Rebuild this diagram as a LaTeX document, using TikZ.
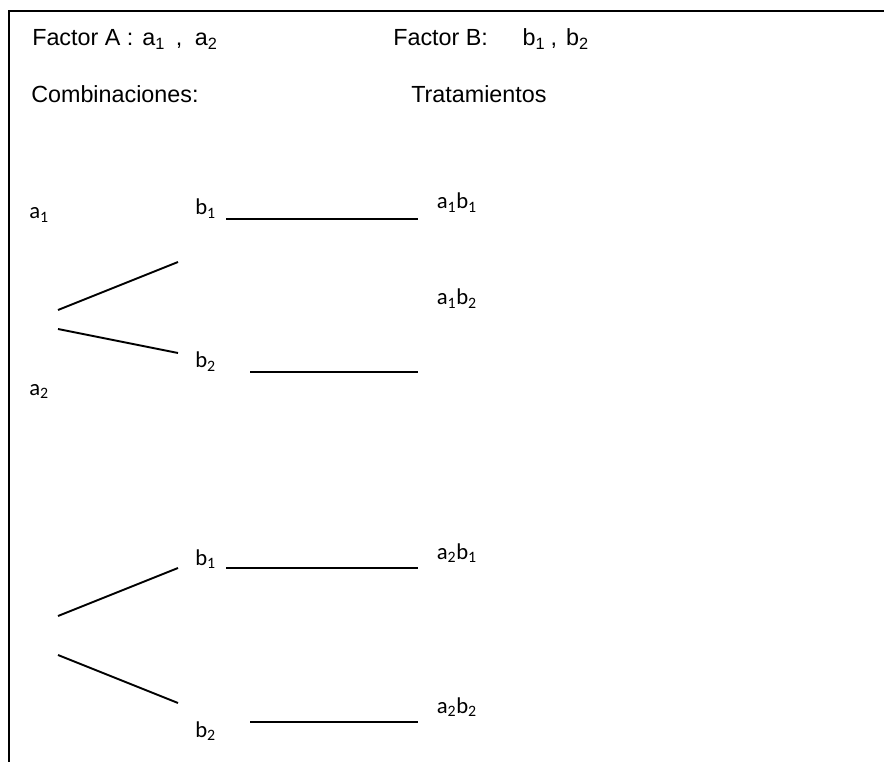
\documentclass[tikz,border=0pt]{standalone}
\usepackage{fontspec}
\setmainfont{Liberation Sans}
\newfontfamily\calfont{Carlito}
\tikzset{
  headtxt/.style={anchor=base west, inner sep=0pt, font=\fontsize{17.5}{21}\selectfont},
  treetxt/.style={anchor=base west, inner sep=0pt, font=\calfont\fontsize{17}{20}\selectfont},
  branch/.style={line width=1.4pt, line cap=butt},
  frameline/.style={line width=1.5pt, line join=miter}
}
\begin{document}
\begin{tikzpicture}[x=0.75pt,y=-0.75pt]
\useasboundingbox (0,0) rectangle (884,762);
% frame (top and left edges only)
\coordinate (ftr) at (884,11);
\coordinate (ftl) at (9,11);
\coordinate (fbl) at (9,762);
\draw[frameline] (ftr) -- (ftl) -- (fbl);

% header texts
\node[headtxt] (fa) at (32,46) {Factor A :\hspace{6.75pt}a\textsubscript{1}\hspace{8pt},\hspace{9.4pt}a\textsubscript{2}};
\node[headtxt] (fb) at (393,46) {Factor B:\hspace{26pt}b\textsubscript{1}\hspace{4pt},\hspace{6.75pt}b\textsubscript{2}};
\node[headtxt] (comb) at (31,102.5) {Combinaciones:};
\node[headtxt] (trat) at (411,102.5) {Tratamientos};

% upper tree
\node[treetxt] (a1) at (29,219) {a\textsubscript{1}};
\node[treetxt] (a2) at (29,395) {a\textsubscript{2}};
\node[treetxt] (b1u) at (195,215) {b\textsubscript{1}};
\node[treetxt] (b2u) at (195,368) {b\textsubscript{2}};
\node[treetxt] (a1b1) at (436.5,209) {a\textsubscript{1}b\textsubscript{1}};
\node[treetxt] (a1b2) at (436.5,305) {a\textsubscript{1}b\textsubscript{2}};

\coordinate (s1a) at (58,310);  \coordinate (s1b) at (178,262);
\coordinate (s2a) at (58,329);  \coordinate (s2b) at (178,353);
\coordinate (l1a) at (226,219); \coordinate (l1b) at (418,219);
\coordinate (l2a) at (250,372); \coordinate (l2b) at (418,372);
\draw[branch] (s1a) -- (s1b);
\draw[branch] (s2a) -- (s2b);
\draw[branch] (l1a) -- (l1b);
\draw[branch] (l2a) -- (l2b);

% lower tree
\node[treetxt] (b1l) at (195,565) {b\textsubscript{1}};
\node[treetxt] (b2l) at (195,737) {b\textsubscript{2}};
\node[treetxt] (a2b1) at (436.5,559) {a\textsubscript{2}b\textsubscript{1}};
\node[treetxt] (a2b2) at (436.5,713) {a\textsubscript{2}b\textsubscript{2}};

\coordinate (s3a) at (58,616);  \coordinate (s3b) at (178,568);
\coordinate (s4a) at (58,655);  \coordinate (s4b) at (178,703);
\coordinate (l3a) at (226,568); \coordinate (l3b) at (418,568);
\coordinate (l4a) at (250,722); \coordinate (l4b) at (418,722);
\draw[branch] (s3a) -- (s3b);
\draw[branch] (s4a) -- (s4b);
\draw[branch] (l3a) -- (l3b);
\draw[branch] (l4a) -- (l4b);
\end{tikzpicture}
\end{document}
